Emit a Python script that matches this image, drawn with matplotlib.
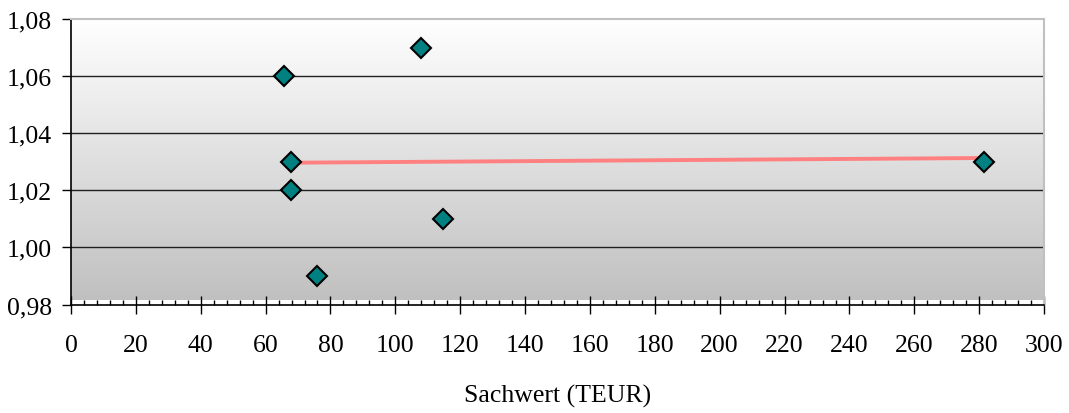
import numpy as np
import matplotlib
matplotlib.use("Agg")
import matplotlib.pyplot as plt
from matplotlib.ticker import MultipleLocator, FuncFormatter
from matplotlib.colors import LinearSegmentedColormap

plt.rcParams['font.family'] = ['Liberation Serif', 'DejaVu Serif']

# Sachwert (TEUR) and ratio values
sachwert = [65.6, 107.8, 67.8, 67.8, 75.8, 114.6, 281.5]
faktor = [1.06, 1.07, 1.03, 1.02, 0.99, 1.01, 1.03]

x_ticks = list(range(0, 301, 20))
y_ticks = [0.98, 1.00, 1.02, 1.04, 1.06, 1.08]

fig = plt.figure(figsize=(10.69, 4.14), dpi=100)
ax = fig.add_axes([71 / 1069, 1 - 305.5 / 414, (1044 - 71) / 1069, (305.5 - 20) / 414])

ax.set_xlim(0, 300)
ax.set_ylim(0.98, 1.08)

# vertical gradient background (white to grey), leaving a thin strip above the x-axis
grad = np.linspace(0, 1, 256).reshape(-1, 1)
cmap = LinearSegmentedColormap.from_list("bg", ["#c0c0c0", "#ffffff"])
ax.imshow(grad, cmap=cmap, aspect='auto', origin='lower',
          extent=(0, 1, 0.016, 1), transform=ax.transAxes, zorder=0)

# horizontal gridlines
for yv in y_ticks[1:-1]:
    ax.axhline(yv, color='#202020', lw=1.0, zorder=1)

# linear trend line over the data range
xs = np.array(sachwert)
ys = np.array(faktor)
k, d = np.polyfit(xs, ys, 1)
xl = np.array([xs.min(), xs.max()])
ax.plot(xl, k * xl + d, color='#ff8080', lw=2.8, zorder=2, solid_capstyle='butt')

ax.plot(sachwert, faktor, linestyle='none', marker='D', markersize=10.5,
        markerfacecolor='#008080', markeredgecolor='black', markeredgewidth=1.5,
        zorder=3)

# spines
ax.spines['left'].set_color('black')
ax.spines['bottom'].set_color('black')
ax.spines['left'].set_linewidth(1.2)
ax.spines['bottom'].set_linewidth(1.2)
ax.spines['top'].set_color('#c0c0c0')
ax.spines['right'].set_color('#c0c0c0')
ax.spines['top'].set_linewidth(1.5)
ax.spines['right'].set_linewidth(1.5)

ax.set_xticks(x_ticks)
ax.set_yticks(y_ticks)
ax.xaxis.set_minor_locator(MultipleLocator(4))
ax.yaxis.set_major_formatter(FuncFormatter(lambda v, p: f"{v:.2f}".replace('.', ',')))
ax.tick_params(axis='x', which='major', direction='inout', length=13, width=1.0,
               labelsize=18.5, pad=15, color='black')
ax.tick_params(axis='x', which='minor', direction='in', length=3.5, width=1.0, color='black')
ax.tick_params(axis='y', which='major', direction='out', length=6.5, width=1.0,
               labelsize=18.5, pad=7, color='black')

ax.set_xlabel("Sachwert (TEUR)", fontsize=18.5, labelpad=20)

fig.savefig("out.png", dpi=100, facecolor='white')
